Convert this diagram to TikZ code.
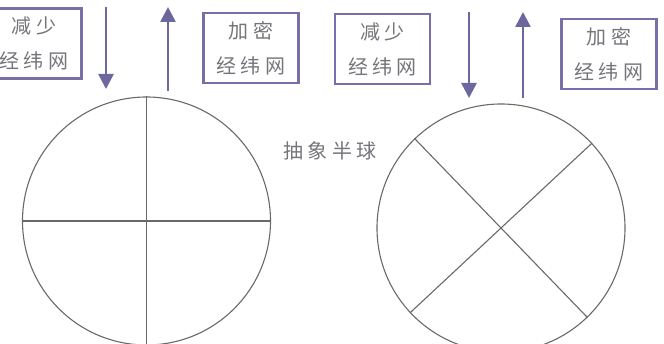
\documentclass[tikz,border=0pt]{standalone}
\usepackage{fontspec}
\newfontfamily\cjk[LetterSpace=22]{Noto Sans CJK SC}
\usetikzlibrary{arrows.meta}
\definecolor{boxline}{RGB}{122,110,168}
\definecolor{arrowc}{RGB}{108,104,158}
\definecolor{txtgray}{RGB}{118,116,122}
\definecolor{ringc}{RGB}{105,105,105}

\begin{document}
\begin{tikzpicture}[x=1pt, y=-1pt,
  op/.style={draw=boxline, line width=2.6pt, align=center, inner sep=0pt,
             minimum width=95pt, minimum height=70pt, text=txtgray,
             font=\fontsize{20}{35}\cjk},
  turn/.style={draw=arrowc, line width=2.6pt, -{Triangle[length=15pt, width=15pt]}},
  ring/.style={draw=ringc, line width=1.1pt, circle, inner sep=0pt, minimum size=248pt},
  cut/.style={draw=ringc, line width=1.1pt}
]
\useasboundingbox (0,0) rectangle (664,344);
% top row
\node[op] (less1) at (34,43.5) {减少\\经纬网};
\node[op] (more1) at (251,48) {加密\\经纬网};
\node[op] (less2) at (382.5,49) {减少\\经纬网};
\node[op] (more2) at (609,54) {加密\\经纬网};
\coordinate (d1a) at (106,7);   \coordinate (d1b) at (106,89);
\coordinate (u1a) at (168,91);  \coordinate (u1b) at (168,7);
\coordinate (d2a) at (469,12);  \coordinate (d2b) at (469,98);
\coordinate (u2a) at (523,98);  \coordinate (u2b) at (523,12);
\draw[turn] (d1a) -- (d1b);
\draw[turn] (u1a) -- (u1b);
\draw[turn] (d2a) -- (d2b);
\draw[turn] (u2a) -- (u2b);
% two hemispheres
\node[ring] (globe1) at (146.5,221) {};
\node[ring] (globe2) at (501,228) {};
\draw[cut] (globe1.north) -- (globe1.south);
\draw[cut] (globe1.west) -- (globe1.east);
\draw[cut] (globe2.134) -- (globe2.-46);
\draw[cut] (globe2.43) -- (globe2.223);
\node[text=txtgray, font=\fontsize{20}{24}\cjk] (name) at (330,151) {抽象半球};
\end{tikzpicture}
\end{document}
